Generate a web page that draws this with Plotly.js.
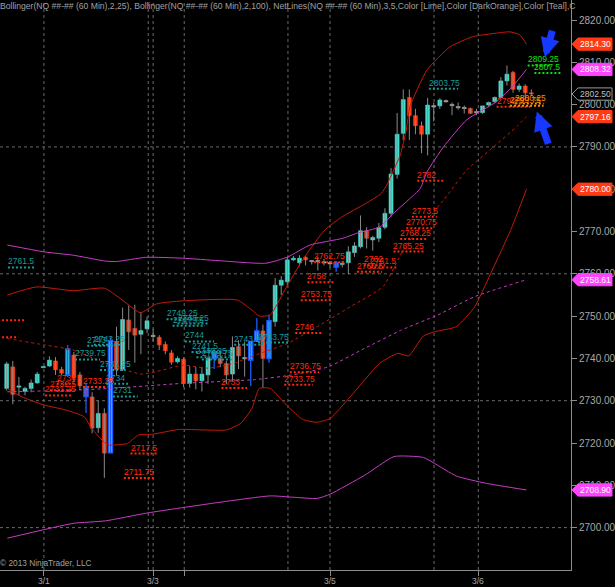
<!DOCTYPE html>
<html><head><meta charset="utf-8">
<script src="https://cdn.plot.ly/plotly-3.0.1.min.js"></script>
<style>html,body{margin:0;padding:0;background:#000;}#chart{width:615px;height:587px;}</style>
</head><body><div id="chart"></div>
<script>
// ---- price bars (60 min), index 0..86 ----
const opens = [2732.9,2738.0,2733.2,2732.2,2732.9,2734.2,2737.9,2738.2,2739.4,2737.4,
 2736.1,2740.8,2736.1,2733.2,2730.9,2723.6,2727.0,2717.7,2744.0,2737.3,
 2749.1,2747.1,2745.7,2747.0,2745.3,2745.0,2743.3,2741.3,2739.2,2739.8,
 2734.1,2736.3,2734.7,2736.1,2739.9,2739.9,2738.8,2736.3,2742.8,2740.0,
 2739.6,2744.1,2746.5,2740.0,2748.7,2757.3,2758.1,2763.3,2762.6,2763.9,
 2763.0,2763.0,2762.7,2762.5,2762.6,2762.2,2762.6,2765.0,2766.4,2770.2,
 2768.0,2768.4,2771.0,2774.3,2783.5,2793.2,2801.7,2797.4,2795.0,2793.0,
 2799.6,2799.7,2800.8,2799.9,2799.4,2799.2,2799.1,2798.2,2798.1,2799.9,
 2800.7,2801.7,2805.6,2807.6,2803.6,2804.4,2802.8];
const highs = [2739.2,2739.4,2735.6,2733.3,2735.0,2736.8,2738.1,2740.5,2740.3,2738.0,
 2743.2,2741.5,2736.8,2734.1,2732.0,2730.0,2728.2,2745.0,2747.5,2752.0,
 2752.5,2752.7,2751.0,2749.9,2747.0,2745.5,2744.0,2742.0,2740.5,2740.2,
 2738.2,2738.0,2738.0,2740.5,2742.0,2741.0,2739.4,2745.2,2744.3,2744.0,
 2744.0,2749.5,2748.0,2750.3,2759.0,2759.5,2764.0,2764.2,2764.4,2764.2,
 2763.3,2764.0,2763.5,2763.0,2763.0,2763.0,2766.5,2767.5,2773.8,2771.0,
 2769.0,2772.0,2775.5,2785.0,2798.0,2803.6,2803.6,2799.0,2796.0,2801.6,
 2800.5,2801.5,2801.2,2800.5,2800.5,2799.8,2799.3,2799.0,2799.7,2800.7,
 2801.9,2806.5,2809.25,2808.0,2805.0,2804.8,2803.6];
const lows = [2732.4,2729.2,2731.3,2731.3,2732.0,2734.0,2737.8,2738.0,2736.1,2736.0,
 2735.6,2734.5,2732.5,2727.1,2722.3,2722.4,2711.75,2717.5,2736.0,2737.0,
 2742.0,2739.0,2741.0,2746.0,2744.0,2742.0,2741.0,2738.5,2738.8,2733.2,
 2733.1,2732.7,2732.2,2734.0,2737.5,2737.9,2733.9,2734.5,2737.5,2735.7,
 2733.5,2744.0,2733.0,2739.0,2747.5,2755.0,2757.0,2763.0,2761.8,2762.0,
 2762.2,2760.8,2762.0,2761.5,2760.5,2761.5,2759.9,2764.0,2766.0,2766.0,
 2765.5,2767.5,2770.5,2773.5,2782.5,2791.6,2791.6,2793.0,2788.5,2788.0,
 2796.0,2799.0,2800.5,2797.5,2798.8,2797.9,2797.9,2797.5,2797.8,2799.5,
 2800.4,2801.5,2804.5,2802.8,2803.0,2801.8,2802.2];
const closes = [2738.7,2731.5,2733.5,2732.9,2734.2,2736.3,2738.0,2739.6,2737.3,2736.5,
 2742.2,2735.4,2733.5,2731.0,2723.5,2727.0,2717.6,2744.2,2737.3,2749.2,
 2746.3,2745.5,2746.6,2748.9,2745.3,2743.2,2741.8,2739.1,2740.0,2734.1,
 2736.3,2734.7,2736.3,2740.0,2741.3,2738.8,2736.1,2742.6,2740.6,2740.1,
 2744.0,2746.5,2740.0,2748.9,2757.3,2758.5,2763.3,2763.7,2763.7,2763.3,
 2763.0,2763.0,2762.7,2762.5,2761.6,2762.5,2765.2,2766.6,2770.2,2768.4,
 2768.6,2770.9,2774.3,2783.6,2793.0,2801.2,2797.4,2795.0,2793.0,2799.9,
 2799.6,2801.1,2800.8,2799.9,2799.4,2799.2,2797.9,2798.2,2799.7,2800.5,
 2801.7,2805.6,2807.2,2803.6,2804.4,2802.8,2802.5];
const paintBars = [10,13,17,34,40,41,43,54];

// ---- Bollinger(2,25) ----
const bb25UpperX = [0.1,4.9,10.9,16.0,18.6,21.9,24.6,28.8,37.8,40.2,41.4,43.2,45.6,48.5,52.1,55.0,58.7,61.4,62.3,63.9,64.5,65.5,66.1,68.9,72.7,76.5,80.3,82.5,84.1,85.2];
const bb25Upper  = [2755.0,2756.9,2756.0,2756.6,2754.2,2750.8,2752.9,2753.6,2753.8,2751.4,2750.0,2750.3,2756.2,2763.3,2770.3,2773.5,2776.5,2779.0,2781.0,2786.0,2788.0,2794.0,2799.5,2808.2,2813.7,2816.1,2816.9,2817.2,2816.5,2814.30];
const bb25MidX = [0.1,6.1,10.9,15.6,21.9,24.6,28.8,33.0,37.2,40.8,46.1,50.9,56.3,61.7,65.3,71.6,75.4,79.8,83.6,85.2];
const bb25Mid  = [2744.7,2743.2,2742.0,2739.2,2736.3,2736.9,2738.4,2737.7,2738.8,2740.8,2743.6,2747.5,2752.2,2757.0,2766.4,2777.4,2784.5,2790.0,2794.8,2797.16];
const bb25LowerX = [0.1,2.5,6.1,9.7,12.7,13.9,16.2,16.9,19.8,21.6,24.0,28.2,36.0,38.4,40.2,41.4,43.2,46.1,48.5,50.9,53.0,56.3,61.1,64.1,65.9,68.3,70.1,73.7,76.7,79.6,82.6,85.2];
const bb25Lower  = [2732.9,2730.9,2729.0,2727.8,2726.2,2723.5,2719.9,2719.5,2719.9,2721.9,2722.1,2723.2,2723.1,2724.7,2728.2,2732.9,2732.9,2728.6,2725.6,2724.9,2725.8,2730.9,2738.8,2741.2,2740.6,2745.3,2746.3,2747.5,2752.2,2760.9,2770.3,2780.00];

// ---- Bollinger(2,100) ----
const bb100UpperX = [0.1,6.1,10.9,16.2,18.0,22.8,28.8,34.8,42.5,46.1,49.7,55.1,57.4,61.2,63.4,65.8,67.8,68.9,71.6,75.4,80.3,83.1,85.2];
const bb100Upper  = [2766.8,2765.2,2764.4,2763.0,2762.9,2763.9,2763.7,2763.1,2762.5,2764.0,2766.8,2768.4,2769.6,2771.1,2774.3,2777.4,2780.2,2784.1,2790.0,2796.4,2800.7,2804.6,2808.32];
const bb100MidX = [0.1,10.9,16.9,28.8,40.8,46.8,52.7,58.7,64.7,70.7,76.7,85.2];
const bb100Mid  = [2732.1,2732.5,2732.9,2734.1,2735.0,2736.1,2738.0,2742.4,2746.7,2750.3,2754.6,2758.61];
const bb100LowerX = [0.1,10.9,16.2,22.8,33.0,43.2,46.8,50.9,53.0,58.7,63.5,68.3,70.1,73.7,78.5,85.2];
const bb100Lower  = [2697.5,2701.0,2701.6,2703.4,2705.6,2707.5,2707.2,2706.9,2707.9,2712.4,2716.8,2716.6,2715.2,2712.2,2710.5,2708.90];

// ---- NetLines: level, start bar, end bar, kind (T teal, R red, L lime, O orange) ----
const netLevel = [2761.5,2749,2745,2739.75,2743,2743.25,2737.25,2734,2731,2734,2733.25,2732.5,2731.25,2717.5,2711.75,
 2749.25,2747.75,2748.25,2744,2741.5,2740.25,2739.75,2743.25,2743.75,2733,2746,2736.75,2733.75,2758,2753.75,2762.75,
 2760.5,2762,2761.5,2773.5,2770.75,2768.25,2765.25,2782,2803.75,2809.25,2807.5,2799.5,2799.75,2800.25];
const netFrom = [0.2,-6,-6,11.2,13.2,14.3,15.3,16.3,17.4,8.2,12.5,7.1,6.3,20.3,19.2,
 26.2,27.2,28.0,29.2,30.3,31.1,32.0,37.3,41.2,35.2,47.3,46.4,45.5,49.3,48.2,50.4,
 57.4,58.5,59.6,66.4,65.5,64.5,63.4,67.3,69.2,85.4,86.5,80.3,82.5,83.3];
const netTo = [4.8,3.0,1.9,15.3,17.5,18.6,19.5,19.9,21.5,11.5,16.5,11.0,10.9,24.8,24.1,
 31.0,32.5,33.2,34.0,35.3,36.5,37.1,42.0,46.3,39.4,51.9,51.2,50.2,53.8,53.2,55.5,
 61.5,62.0,64.0,70.5,70.0,69.0,68.5,71.9,74.0,89.0,91.0,85.8,88.0,88.0];
const netKind = ['T','R','R','T','T','T','T','T','T','R','R','R','R','R','R',
 'T','T','T','T','T','T','T','T','T','R','R','R','R','R','R','R',
 'R','R','R','R','R','R','R','R','T','L','L','R','O','O'];

// ---- axis ----
const sessionBreaks = [6.1,23.2,24.0,29.1,46.1,53.0,70.05,77.3];
const gridLevels = [2790,2760,2730,2700];
const priceTicks = [2700,2710,2720,2730,2740,2750,2760,2770,2780,2790,2800,2810,2820];
const dateTickPos = [6.1,24.0,29.1,53.0,77.3];
const dateTickText = ['3/1','3/3','','3/5','3/6'];

// ================== build ==================
const FONT='Liberation Sans, Arial, sans-serif';
const UP='#40e0d0', DN='#ff3c14', DOJI='#b0b0b0', WICK='#8a8a8a', PAINT='#1a5cff';
const N = opens.length;
const idx = opens.map((_,i)=>i);
const wx=[],wy=[],px=[],py=[];
const bodyY=[],bodyBase=[],bodyCol=[],bodyLine=[],bodyLW=[];
for(let i=0;i<N;i++){
  const isP = paintBars.includes(i);
  (isP?px:wx).push(i,i,null); (isP?py:wy).push(lows[i],highs[i],null);
  const o=opens[i],c=closes[i];
  let col = c>o?UP:(c<o?DN:DOJI);
  let h=Math.abs(c-o), b=Math.min(o,c);
  if(h<0.3){b=(o+c)/2-0.15;h=0.3;}
  bodyY.push(h);bodyBase.push(b);bodyCol.push(col);
  bodyLine.push(isP?PAINT:col);bodyLW.push(isP?1.5:0.5);
}
const traces=[
 {type:'scatter',mode:'lines',x:wx,y:wy,line:{color:WICK,width:1},hoverinfo:'skip'},
 {type:'scatter',mode:'lines',x:px,y:py,line:{color:PAINT,width:1.3},hoverinfo:'skip'},
 {type:'bar',x:idx,y:bodyY,base:bodyBase,width:0.66,marker:{color:bodyCol,line:{color:bodyLine,width:bodyLW}},hoverinfo:'skip'},
];
const RB='#c41a08', MB='#c83cc8';
function band(x,y,color,dash){traces.push({type:'scatter',mode:'lines',x:x,y:y,line:{color:color,width:1,dash:dash,shape:'spline',smoothing:0.5},hoverinfo:'skip'});}
band(bb25UpperX,bb25Upper,RB,'solid');
band(bb25MidX,bb25Mid,RB,'dot');
band(bb25LowerX,bb25Lower,RB,'solid');
band(bb100UpperX,bb100Upper,MB,'solid');
band(bb100MidX,bb100Mid,MB,'dot');
band(bb100LowerX,bb100Lower,MB,'solid');

const shapes=[], ann=[];
const GRID='#6a6a6a';
sessionBreaks.forEach(v=>shapes.push({type:'line',xref:'x',yref:'paper',x0:v,x1:v,y0:0,y1:1,line:{color:GRID,width:1,dash:'3px,3px'},layer:'below'}));
gridLevels.forEach(v=>shapes.push({type:'line',xref:'paper',yref:'y',x0:0,x1:1,y0:v,y1:v,line:{color:GRID,width:1,dash:'3px,3px'},layer:'below'}));

const KC={T:'#169c9c',R:'#ff2a0a',L:'#10e010',O:'#ff8c00'};
for(let k=0;k<netLevel.length;k++){
  const c=KC[netKind[k]];
  shapes.push({type:'line',xref:'x',yref:'y',x0:netFrom[k],x1:netTo[k],y0:netLevel[k],y1:netLevel[k],line:{color:c,width:2,dash:'2px,2px'}});
  ann.push({xref:'x',yref:'y',x:netFrom[k],y:netLevel[k],xanchor:'left',yanchor:'bottom',yshift:-1,xshift:-2,showarrow:false,
    text:String(netLevel[k]),font:{family:FONT,size:8.5,color:c}});
}

// right-side price markers
const W=571;
function marker(v,bg,fg,border){
  const h=1.45, tip=1+1/W, bl=1+7/W, r=1+41/W;
  shapes.push({type:'path',xref:'paper',yref:'y',path:`M ${tip},${v} L ${bl},${v+h} L ${r},${v+h} L ${r},${v-h} L ${bl},${v-h} Z`,
    fillcolor:bg,line:{color:border||bg,width:1},layer:'above'});
  ann.push({xref:'paper',yref:'y',x:1+24/W,y:v,xanchor:'center',yanchor:'middle',showarrow:false,text:v.toFixed(2),
    font:{family:FONT,size:8.5,color:fg}});
}
marker(bb25Upper[bb25Upper.length-1],'#ff3a14','#ffffff');
marker(bb100Upper[bb100Upper.length-1],'#ff44ff','#ffffff');
marker(closes[N-1],'#000000','#c0c0c0','#9a9a9a');
marker(bb25Mid[bb25Mid.length-1],'#ff3a14','#ffffff');
marker(bb25Lower[bb25Lower.length-1],'#ff3a14','#ffffff');
marker(bb100Mid[bb100Mid.length-1],'#ff44ff','#ffffff');
marker(bb100Lower[bb100Lower.length-1],'#ff44ff','#ffffff');

// date labels under the axis
dateTickPos.forEach((p,k)=>{ if(dateTickText[k]) ann.push({xref:'x',yref:'paper',x:p,y:0,yanchor:'top',xanchor:'center',yshift:-4,showarrow:false,
  text:dateTickText[k],font:{family:FONT,size:8.5,color:'#a8a8a8'}}); });

// header & copyright
ann.push({xref:'paper',yref:'paper',x:0,y:1,xanchor:'left',yanchor:'top',showarrow:false,yshift:1,xshift:-2,
  text:'Bollinger(NQ ##-## (60 Min),2,25), Bollinger(NQ ##-## (60 Min),2,100), NetLines(NQ ##-## (60 Min),3,5,Color [Lime],Color [DarkOrange],Color [Teal],C',
  font:{family:FONT,size:8.6,color:'#a0a0a0'}});
ann.push({xref:'paper',yref:'paper',x:0,y:0,xanchor:'left',yanchor:'bottom',showarrow:false,xshift:-2,
  text:'© 2013 NinjaTrader, LLC',font:{family:FONT,size:8.3,color:'#a0a0a0'}});

// blue hand-drawn arrows
ann.push({xref:'x',yref:'y',x:88.2,y:2811.2,ax:8,ay:-28,showarrow:true,arrowhead:2,arrowsize:0.55,arrowwidth:7,arrowcolor:'#1638ff',text:''});
ann.push({xref:'x',yref:'y',x:86.9,y:2798.4,ax:12,ay:34,showarrow:true,arrowhead:2,arrowsize:0.55,arrowwidth:7,arrowcolor:'#1638ff',text:''});

const layout={
  width:615,height:587,margin:{l:0,r:44,t:0,b:17},
  paper_bgcolor:'#000',plot_bgcolor:'#000',showlegend:false,barmode:'overlay',hovermode:false,
  xaxis:{range:[-1.1,92.5],showgrid:false,zeroline:false,showline:true,linecolor:'#8c8c8c',linewidth:1,
    tickmode:'array',tickvals:dateTickPos,ticktext:dateTickPos.map(()=>''),ticks:'outside',ticklen:5,tickcolor:'#8c8c8c'},
  yaxis:{range:[2689.98,2824.73],side:'right',showgrid:false,zeroline:false,showline:true,linecolor:'#8c8c8c',linewidth:1,
    tickmode:'array',tickvals:priceTicks,tickformat:'.2f',ticks:'outside',ticklen:5,tickcolor:'#8c8c8c',
    tickfont:{family:FONT,size:10,color:'#a8a8a8'}},
  shapes:shapes,annotations:ann
};
Plotly.newPlot('chart',traces,layout,{staticPlot:true,displayModeBar:false});
</script></body></html>
